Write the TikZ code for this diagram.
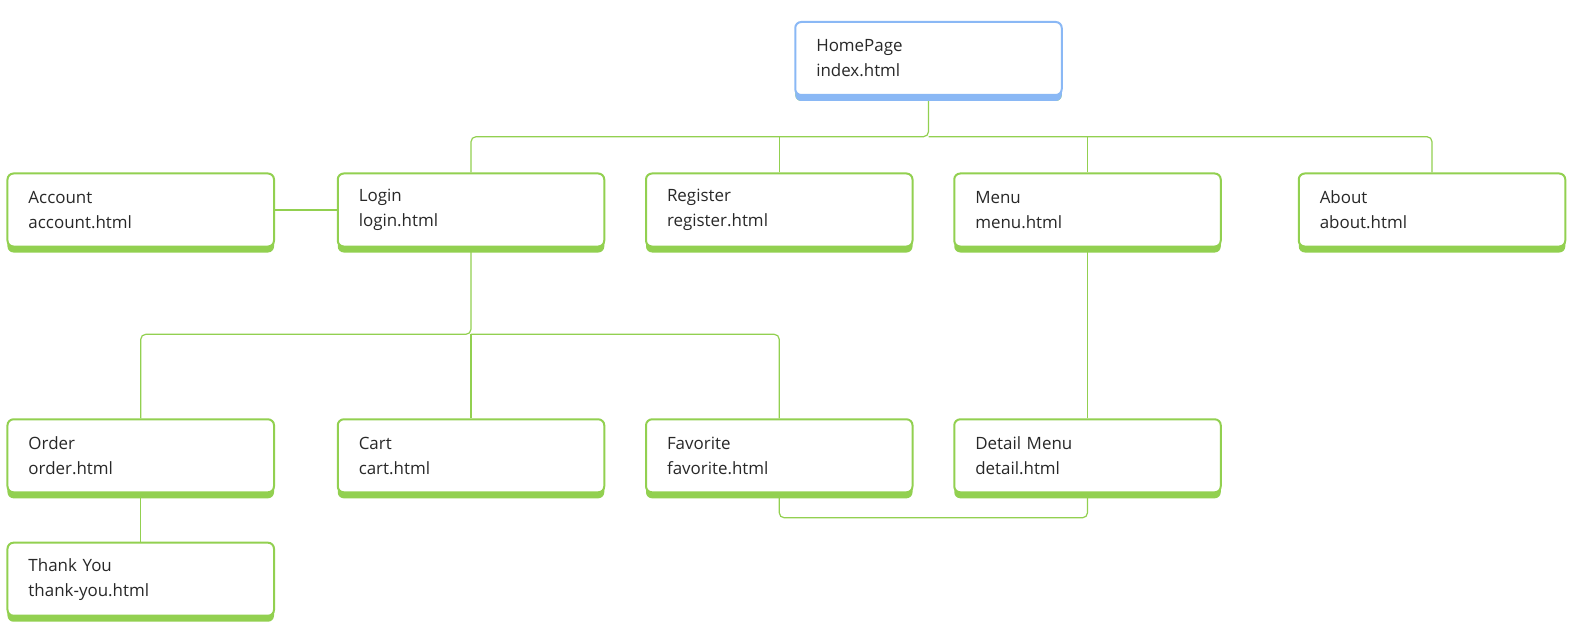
\documentclass[tikz,border=0pt]{standalone}
\usepackage{fontspec}
\setmainfont{Open Sans}
\usetikzlibrary{shadows,backgrounds}
\definecolor{boxgreen}{RGB}{146,208,80}
\definecolor{boxblue}{RGB}{138,184,245}
\definecolor{txtgray}{RGB}{40,40,40}

\begin{document}
\begin{tikzpicture}[x=1bp,y=-1bp]
 \tikzset{page/.style={draw=boxgreen,line width=2bp,fill=white,rounded corners=6bp,
   minimum width=266.5bp,minimum height=73bp,text width=224.5bp,inner xsep=21bp,align=left,
   text=txtgray,font=\fontsize{17}{25}\selectfont,
   drop shadow={shadow xshift=0bp,shadow yshift=-6bp,fill=boxgreen,opacity=1}},
  home/.style={page,draw=boxblue,drop shadow={shadow xshift=0bp,shadow yshift=-6bp,fill=boxblue,opacity=1}},
  link/.style={draw=boxgreen,line width=1.2bp,rounded corners=5bp}}
 \useasboundingbox (0,0) rectangle (1575,634);

 \node[home] (H) at (928.5,58.5) {HomePage\\index.html};

 \node[page] (acc) at (140.75,210) {Account\\account.html};
 \node[page] (log) at (471,210) {Login\\login.html};
 \node[page] (reg) at (779.25,210) {Register\\register.html};
 \node[page] (men) at (1087.5,210) {Menu\\menu.html};
 \node[page] (abo) at (1432,210) {About\\about.html};

 \node[page] (ord) at (140.75,455.8) {Order\\order.html};
 \node[page] (car) at (471,455.8) {Cart\\cart.html};
 \node[page] (fav) at (779.25,455.8) {Favorite\\favorite.html};
 \node[page] (det) at (1087.5,455.8) {Detail Menu\\detail.html};

 \node[page] (thx) at (140.75,579.2) {Thank You\\thank-you.html};

 \begin{scope}[on background layer]
 \coordinate (busH) at (928.5,136.7);
 \coordinate (busL) at (471,334.3);
 \draw[link] (log.north) |- (busH) -- (H.south);
 \draw[link] (abo.north) |- (busH);
 \draw[link] (reg.north) -- (reg.north |- busH);
 \draw[link] (men.north) -- (men.north |- busH);
 \draw[link] (acc.east) -- (log.west);
 \draw[link] (ord.north) |- (busL) -- (log.south);
 \draw[link] (fav.north) |- (busL);
 \draw[link] (car.north) -- (busL);
 \draw[link] (men.south) -- (det.north);
 \draw[link] (ord.south) -- (thx.north);
 \draw[link] (fav.south) -- ++(0,24.5) -| (det.south);
 \end{scope}
\end{tikzpicture}
\end{document}
